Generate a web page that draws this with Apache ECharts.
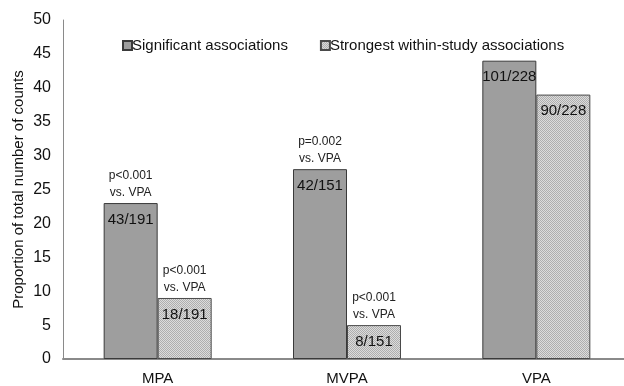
<!DOCTYPE html>
<html>
<head>
<meta charset="utf-8">
<script src="https://cdn.jsdelivr.net/npm/echarts@6/dist/echarts.min.js"></script>
<style>html,body{margin:0;padding:0;background:#fff}#c{width:624px;height:386px}</style>
</head>
<body>
<div id="c"></div>
<script>
var categories = ['MPA', 'MVPA', 'VPA'];
var seriesNames = ['Significant associations', 'Strongest within-study associations'];
var sigValues = [23, 28, 44];
var strongValues = [9, 5, 39];
var sigCounts = ['43/191', '42/151', '101/228'];
var strongCounts = ['18/191', '8/151', '90/228'];
var sigNotes = ['p<0.001\nvs. VPA', 'p=0.002\nvs. VPA', ''];
var strongNotes = ['p<0.001\nvs. VPA', 'p<0.001\nvs. VPA', ''];
var yTicks = [0, 5, 10, 15, 20, 25, 30, 35, 40, 45, 50];

function makePattern() {
  var cv = document.createElement('canvas');
  cv.width = 2; cv.height = 2;
  var ctx = cv.getContext('2d');
  ctx.fillStyle = '#dcdcdc'; ctx.fillRect(0, 0, 2, 2);
  ctx.fillStyle = '#aeaeae'; ctx.fillRect(0, 0, 1, 1); ctx.fillRect(1, 1, 1, 1);
  return cv;
}
var pattern = { image: makePattern(), repeat: 'repeat' };
var font = 'Liberation Sans, Arial, sans-serif';

function notePoints(values, notes) {
  var arr = [];
  for (var i = 0; i < values.length; i++) {
    if (notes[i]) arr.push({ coord: [categories[i], values[i]], value: notes[i] });
  }
  return arr;
}

function barSeries(name, values, counts, notes, color, border) {
  return {
    name: name, type: 'bar', data: values,
    barWidth: 54, barGap: '0%',
    itemStyle: { color: color, borderColor: border, borderWidth: 1 },
    label: {
      show: true, position: 'insideTop', distance: 9,
      fontFamily: font, fontSize: 15, color: '#111',
      formatter: function (p) { return counts[p.dataIndex]; }
    },
    markPoint: {
      symbol: 'rect', symbolSize: 0, silent: true,
      label: {
        show: true, position: 'top', distance: 2,
        fontFamily: font, fontSize: 12, color: '#222', lineHeight: 17,
        formatter: function (p) { return p.value; }
      },
      data: notePoints(values, notes)
    }
  };
}

var chart = echarts.init(document.getElementById('c'));
chart.setOption({
  animation: false,
  backgroundColor: '#fff',
  grid: { left: 63, width: 568, top: 20, bottom: 27, outerBoundsMode: 'none', containLabel: false },
  legend: {
    top: 33, left: 117, itemWidth: 9, itemHeight: 9, itemGap: 32, icon: 'rect',
    textStyle: { fontFamily: font, fontSize: 15, color: '#111', padding: [0, 0, 0, -5] },
    data: seriesNames
  },
  xAxis: {
    type: 'category', data: categories,
    axisLine: { lineStyle: { color: '#8a8a8a', width: 2 } },
    axisTick: { show: false },
    axisLabel: { fontFamily: font, fontSize: 15, color: '#111', margin: 12 }
  },
  yAxis: {
    type: 'value', min: yTicks[0], max: yTicks[yTicks.length - 1], interval: 5,
    name: 'Proportion of total number of counts', nameLocation: 'middle', nameGap: 37,
    nameMoveOverlap: false,
    nameTextStyle: { fontFamily: font, fontSize: 15, color: '#111' },
    axisLine: { show: true, lineStyle: { color: '#8a8a8a', width: 1 } },
    axisTick: { show: false },
    splitLine: { show: false },
    axisLabel: { fontFamily: font, fontSize: 16, color: '#111', margin: 12 }
  },
  series: [
    barSeries(seriesNames[0], sigValues, sigCounts, sigNotes, '#9e9e9e', '#3a3a3a'),
    barSeries(seriesNames[1], strongValues, strongCounts, strongNotes, pattern, '#4a4a4a')
  ]
});
</script>
</body>
</html>
